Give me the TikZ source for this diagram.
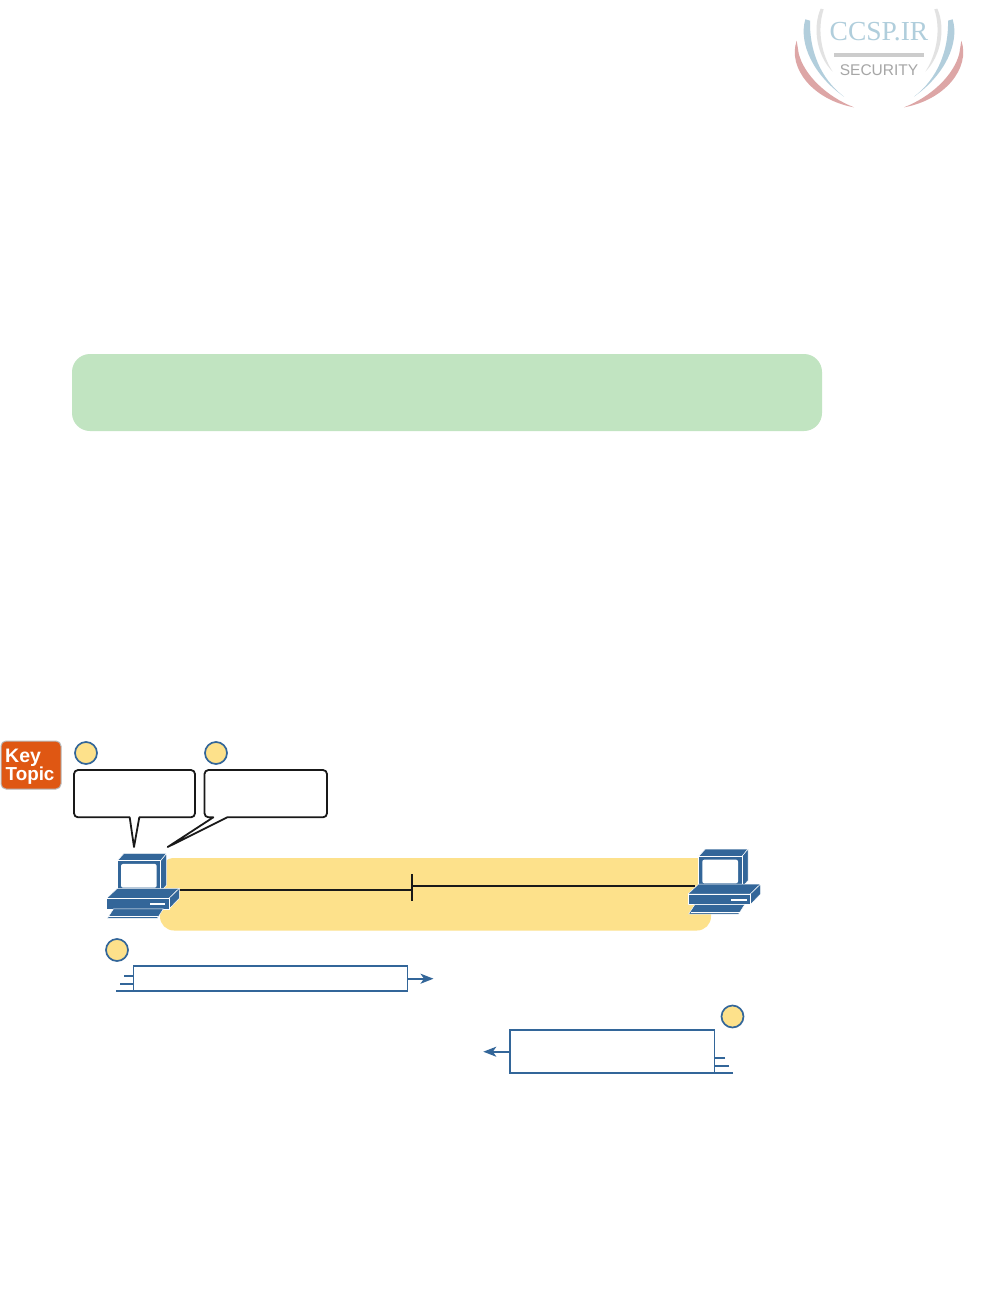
\documentclass[tikz,border=0pt]{standalone}
\usepackage{fontspec}
\setmainfont{Liberation Sans}
\newfontfamily\logoserif{Liberation Serif}
\usetikzlibrary{arrows.meta}
\definecolor{ciscoblue}{HTML}{336699}
\definecolor{softyellow}{HTML}{FDE18B}
\definecolor{softgreen}{HTML}{C1E4C1}
\definecolor{keyorange}{HTML}{DF5713}
\definecolor{logoblue}{HTML}{B2CEDC}
\definecolor{logored}{HTML}{DDA6A6}
\definecolor{logogrey}{HTML}{E2E2E2}
\definecolor{logotext}{HTML}{B0CEDC}
\tikzset{
  marker/.style={circle,draw=ciscoblue,fill=softyellow,line width=1.7pt,minimum size=22pt,inner sep=0pt},
  bubble/.style={draw=black!90,fill=white,line width=1.8pt,line join=round},
  flowbox/.style={rectangle,draw=ciscoblue,fill=white,line width=1.8pt,inner sep=0pt,outer sep=0pt,anchor=north west},
  tick/.style={draw=ciscoblue,line width=1.8pt},
  flowarrow/.style={draw=ciscoblue,line width=1.8pt,-{Stealth[length=13pt,width=10pt,inset=3.5pt]}},
  wire/.style={draw=black!90,line width=1.6pt},
  pcpart/.style={fill=ciscoblue,draw=white,line width=.5pt,line join=round},
  pics/logoarcs/.style={code={
    \begin{scope}[x=#1pt,y=-.3333pt]
    \fill[logogrey] (122,26) .. controls (98,80) and (108,165) .. (158,215) .. controls (125,165) and (110,90) .. (131,28) -- cycle;
    \fill[logoblue] (76,58) .. controls (55,130) and (100,225) .. (192,290) .. controls (120,235) and (88,150) .. (90,62) -- cycle;
    \fill[logored] (50,122) .. controls (22,205) and (100,300) .. (222,322) .. controls (140,290) and (72,225) .. (56,160) -- cycle;
    \end{scope}
  }},
  pics/computer/.style={code={
    \begin{scope}[x=.3333pt,y=-.3333pt]
      \path[pcpart] (32,22) -- (52,0) -- (180,0) -- (162,22) -- cycle;
      \path[pcpart] (162,22) -- (180,0) -- (180,95) -- (162,115) -- cycle;
      \path[pcpart] (32,22) rectangle (162,115);
      \path[fill=white,rounded corners=2pt] (43,32) rectangle (150,103);
      \path[pcpart] (0,135) -- (32,105) -- (218,105) -- (187,135) -- cycle;
      \path[pcpart] (187,135) -- (218,105) -- (218,135) -- (187,167) -- cycle;
      \path[pcpart] (0,135) rectangle (187,167);
      \path[fill=white] (130,149) rectangle (176,155);
      \path[pcpart] (2,195) -- (20,167) -- (170,167) -- (152,195) -- cycle;
      \path[draw=white,line width=.5pt] (8,189) -- (155,189);
    \end{scope}
  }},
}
\begin{document}
\begin{tikzpicture}[x=1pt,y=-1pt]
\useasboundingbox (0,0) rectangle (991,1314);
\fill[white] (0,0) rectangle (991,1314);

% logo
\pic (logol) at (780,0) {logoarcs=.3333};
\pic (logor) at (978,0) {logoarcs=-.3333};
\fill[gray!40] (834,53.5) rectangle (924,57);
\node[inner sep=0pt,text=logotext,font=\logoserif\fontsize{27.5}{27}\selectfont] (logotitle) at (879,32) {CCSP.IR};
\node[inner sep=0pt,text=gray!70,font=\fontsize{15.5}{15.5}\selectfont] (logosub) at (879,70.5) {SECURITY};

% green banner
\fill[softgreen,rounded corners=18pt] (72,354) rectangle (822,431);

% key topic badge
\node[draw=gray!55,line width=1pt,fill=keyorange,rounded corners=5pt,minimum width=60pt,minimum height=48pt,inner sep=0pt] (badge) at (31,765) {};
\node[inner sep=0pt,anchor=base west,text=white,font=\bfseries\fontsize{19.5}{20}\selectfont] (keyw) at (5,762) {Key};
\node[inner sep=0pt,anchor=base west,text=white,font=\bfseries\fontsize{18.8}{18}\selectfont] (topicw) at (5.5,780) {Topic};

% markers
\node[marker] (m1) at (86,753) {};
\node[marker] (m2) at (216,753) {};
\node[marker] (m3) at (117,950) {};
\node[marker] (m4) at (732.5,1016.5) {};

% callouts
\path[bubble] (129.7,817.3) [rounded corners=4pt] -- (74,817.3) -- (74,770) -- (195,770) -- (195,817.3) [sharp corners] -- (139.3,817.3) -- (134,847) -- cycle;
\path[bubble] (213.3,817.3) [rounded corners=4pt] -- (204.5,817.3) -- (204.5,770) -- (327,770) -- (327,817.3) [sharp corners] -- (227.3,817.3) -- (167.7,847) -- cycle;

% yellow band
\fill[softyellow,rounded corners=14pt] (160,858) rectangle (711,930.5);

% link
\coordinate (hub) at (412,890);
\coordinate (hubtop) at (412,874);
\coordinate (hubbot) at (412,901);
\coordinate (hubr) at (412,886);
\coordinate (pcleftport) at (179,890);
\coordinate (pcrightport) at (695,886);
\draw[wire] (pcleftport) -- (hub);
\draw[wire] (hubtop) -- (hubbot);
\draw[wire] (hubr) -- (pcrightport);

% computers
\pic (pcleft) at (106.7,853.3) {computer};
\pic (pcright) at (688,849) {computer};

% flow boxes
\node[flowbox,minimum width=274pt,minimum height=25.3pt] (reqbox) at (133.4,965.7) {};
\coordinate (reqtip) at (433.5,978.7);
\draw[flowarrow] (reqbox.east |- reqtip) -- (reqtip);
\coordinate (r1) at (124,975.7);
\coordinate (r2) at (120,983.7);
\coordinate (r3) at (116,991);
\draw[tick] (r1) -- (reqbox.west |- r1);
\draw[tick] (r2) -- (reqbox.west |- r2);
\draw[tick] (r3) -- (reqbox.west |- r3);

\node[flowbox,minimum width=204.5pt,minimum height=43.3pt] (repbox) at (510,1030) {};
\coordinate (reptip) at (483.3,1051.7);
\draw[flowarrow] (repbox.west |- reptip) -- (reptip);
\coordinate (s1) at (725,1057.7);
\coordinate (s2) at (729,1065.7);
\coordinate (s3) at (733,1073.2);
\draw[tick] (s1) -- (repbox.east |- s1);
\draw[tick] (s2) -- (repbox.east |- s2);
\draw[tick] (s3) -- (repbox.east |- s3);
\end{tikzpicture}
\end{document}
